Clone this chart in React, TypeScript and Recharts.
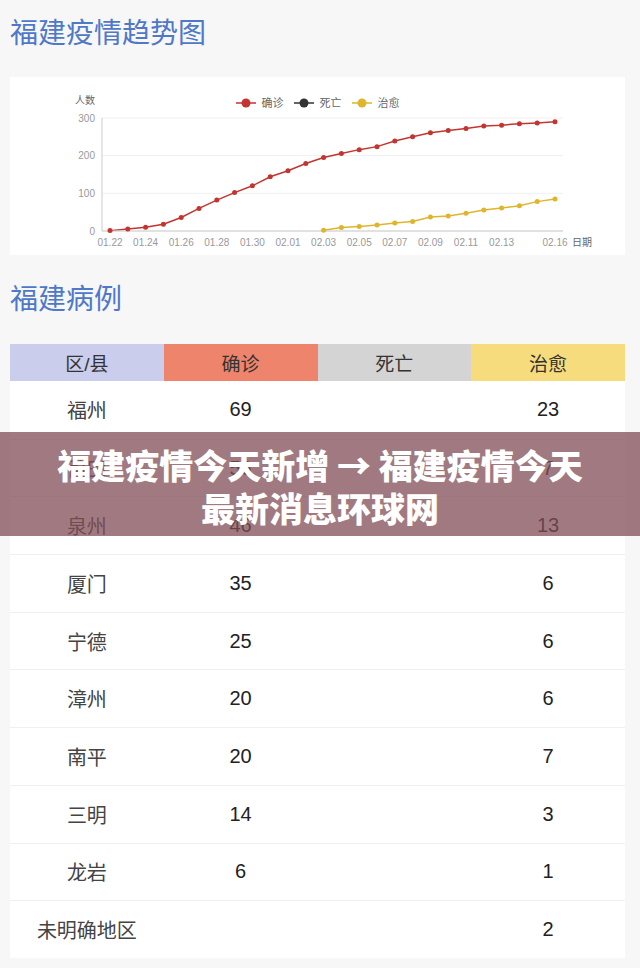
import { LineChart, Line, XAxis, YAxis, CartesianGrid } from 'recharts';

// trend chart data
const dates = [
  '01.22', '01.23', '01.24', '01.25', '01.26', '01.27', '01.28', '01.29', '01.30', '01.31',
  '02.01', '02.02', '02.03', '02.04', '02.05', '02.06', '02.07', '02.08', '02.09', '02.10',
  '02.11', '02.12', '02.13', '02.14', '02.15', '02.16',
];
const confirmed = [1, 5, 10, 18, 36, 60, 82, 102, 120, 144, 160, 179, 195, 206, 216, 224, 239, 250, 261, 267, 272, 279, 281, 285, 287, 290];
const dead: (number | null)[] = [
  null, null, null, null, null, null, null, null, null, null, null, null, null,
  null, null, null, null, null, null, null, null, null, null, null, null, null,
];
const cured: (number | null)[] = [
  null, null, null, null, null, null, null, null, null, null, null, null,
  2, 9, 12, 16, 21, 25, 37, 40, 47, 56, 61, 67, 78, 85,
];
const xTicks = ['01.22', '01.24', '01.26', '01.28', '01.30', '02.01', '02.03', '02.05', '02.07', '02.09', '02.11', '02.13', '02.16'];
const yTicks = [0, 100, 200, 300];

// table data
const regions = ['福州', '莆田', '泉州', '厦门', '宁德', '漳州', '南平', '三明', '龙岩', '未明确地区'];
const regionConfirmed = ['69', '56', '46', '35', '25', '20', '20', '14', '6', ''];
const regionDead = ['', '', '', '', '', '', '', '', '', ''];
const regionCured = ['23', '7', '13', '6', '6', '6', '7', '3', '1', '2'];
const headers = ['区/县', '确诊', '死亡', '治愈'];

const RED = '#c23531';
const BLACK = '#333333';
const YELLOW = '#dfb62b';

const series = [
  { key: 'confirmed', name: '确诊', color: RED },
  { key: 'dead', name: '死亡', color: BLACK },
  { key: 'cured', name: '治愈', color: YELLOW },
];

const chartData = dates.map((d, i) => ({ date: d, confirmed: confirmed[i], dead: dead[i], cured: cured[i] }));

const font = '"Liberation Sans", "Noto Sans CJK SC", sans-serif';
const headerBg = ['#cacdeb', '#ef846c', '#d4d4d4', '#f6dc7c'];

function LegendBox() {
  return (
    <div style={{ position: 'absolute', left: 0, top: 20, width: 615, display: 'flex', justifyContent: 'center', alignItems: 'center', fontSize: 11, lineHeight: '12px', color: '#666', fontFamily: font }}>
      {series.map((s) => (
        <div key={s.key} style={{ display: 'flex', alignItems: 'center', margin: '0 5px' }}>
          <svg width={20} height={10} style={{ marginRight: 6 }}>
            <line x1={0} y1={5} x2={20} y2={5} stroke={s.color} strokeWidth={1.5} />
            <circle cx={10} cy={5} r={4.5} fill={s.color} />
          </svg>
          <span>{s.name}</span>
        </div>
      ))}
    </div>
  );
}

export default function App() {
  return (
    <div style={{ position: 'absolute', left: 0, top: 0, width: 640, height: 968, background: '#f7f7f7', fontFamily: font, overflow: 'hidden' }}>
      <div style={{ position: 'absolute', left: 10, top: 18, fontSize: 28, lineHeight: '32px', color: '#4f78c9' }}>福建疫情趋势图</div>

      {/* chart card */}
      <div style={{ position: 'absolute', left: 10, top: 77, width: 615, height: 178, background: '#fff' }}>
        <div style={{ position: 'absolute', left: 65, top: 15, fontSize: 10, color: '#666' }}>人数</div>
        <LegendBox />
        <LineChart width={615} height={178} data={chartData} margin={{ top: 41, right: 62, left: 0, bottom: 0 }}>
          <CartesianGrid vertical={false} stroke="#f0f0f0" />
          <XAxis
            dataKey="date"
            ticks={xTicks}
            interval={0}
            height={24}
            padding={{ left: 8, right: 8 }}
            tickLine={false}
            tickMargin={2}
            axisLine={{ stroke: '#cccccc' }}
            tick={{ fontSize: 10, fill: '#999' }}
            label={{ value: '日期', position: 'right', offset: 9, dy: -1, fontSize: 10, fill: '#666' }}
          />
          <YAxis
            width={92}
            domain={[0, 300]}
            ticks={yTicks}
            tickLine={false}
            tickMargin={1}
            axisLine={{ stroke: '#cccccc' }}
            tick={{ fontSize: 10, fill: '#999' }}
          />
          {series.map((s) => (
            <Line
              key={s.key}
              type="linear"
              dataKey={s.key}
              name={s.name}
              stroke={s.color}
              strokeWidth={1.5}
              dot={{ r: 2.5, fill: s.color, stroke: s.color, strokeWidth: 0 }}
              isAnimationActive={false}
            />
          ))}
        </LineChart>
      </div>

      <div style={{ position: 'absolute', left: 10, top: 284, fontSize: 28, lineHeight: '32px', color: '#4f78c9' }}>福建病例</div>

      {/* table */}
      <div style={{ position: 'absolute', left: 10, top: 344, width: 615 }}>
        <div style={{ display: 'flex', height: 37 }}>
          {headers.map((h, i) => (
            <div key={h} style={{ flex: 1, background: headerBg[i], display: 'flex', alignItems: 'center', justifyContent: 'center', fontSize: 19, color: '#333' }}>{h}</div>
          ))}
        </div>
        {regions.map((r, i) => (
          <div key={r} style={{ display: 'flex', height: 57.7, background: '#fff', borderTop: i === 0 ? 'none' : '1px solid #f0f0f0', boxSizing: 'border-box' }}>
            {[r, regionConfirmed[i], regionDead[i], regionCured[i]].map((v, j) => (
              <div key={j} style={{ flex: 1, display: 'flex', alignItems: 'center', justifyContent: 'center', fontSize: 20, color: j === 0 ? '#444' : '#222' }}>{v}</div>
            ))}
          </div>
        ))}
      </div>

      {/* banner overlay */}
      <div style={{ position: 'absolute', left: 0, top: 432, width: 640, height: 104, background: 'rgba(128,78,86,0.75)', color: '#fff', textAlign: 'center', fontSize: 34, fontWeight: 900, lineHeight: '43px', paddingTop: 11, boxSizing: 'border-box', fontFamily: '"Noto Sans CJK SC", sans-serif' }}>
        福建疫情今天新增 → 福建疫情今天<br />最新消息环球网
      </div>
    </div>
  );
}
